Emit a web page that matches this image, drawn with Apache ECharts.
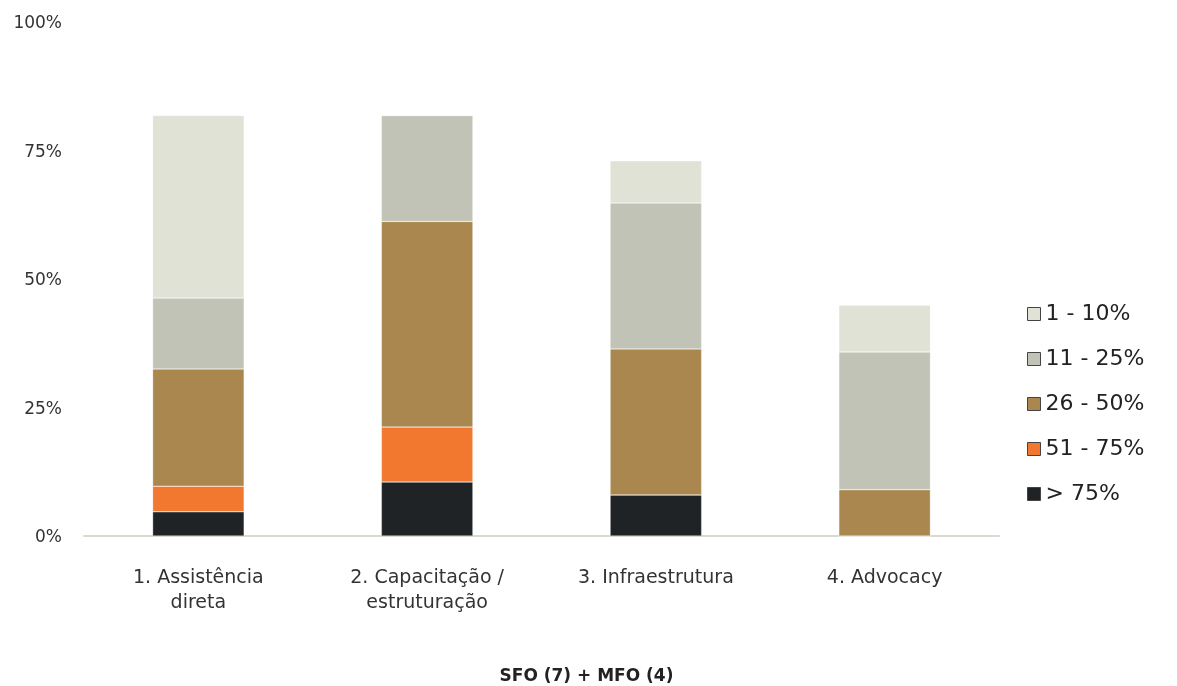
<!DOCTYPE html>
<html><head><meta charset="utf-8">
<script src="https://cdn.jsdelivr.net/npm/echarts@6/dist/echarts.min.js"></script>
<style>html,body{margin:0;padding:0;background:#fff}#c{width:1177px;height:686px}</style>
</head><body><div id="c"></div>
<script>
const categories = ['1. Assistência\ndireta', '2. Capacitação /\nestruturação', '3. Infraestrutura', '4. Advocacy'];
const yTicks = ['0%', '25%', '50%', '75%', '100%'];
const seriesNames = ['> 75%', '51 - 75%', '26 - 50%', '11 - 25%', '1 - 10%'];
const over75 = [4.7, 10.5, 8.0, 0];
const s51to75 = [5.0, 10.7, 0, 0];
const s26to50 = [22.8, 40.0, 28.4, 9.0];
const s11to25 = [13.8, 20.6, 28.4, 26.8];
const s1to10 = [35.5, 0, 8.2, 9.1];
const colors = ['#202326', '#f2782f', '#a9874e', '#c1c3b6', '#e0e2d6'];
const xTitle = 'SFO (7) + MFO (4)';

const dataSets = [over75, s51to75, s26to50, s11to25, s1to10];
const font = '"DejaVu Sans", sans-serif';
const chart = echarts.init(document.getElementById('c'));
chart.setOption({
  animation: false,
  grid: { left: 84, right: 178, top: 22, bottom: 150, outerBoundsMode: 'none', containLabel: false },
  legend: {
    orient: 'vertical', left: 1022, top: 298, itemWidth: 13, itemHeight: 13, itemGap: 23,
    icon: 'rect',
    data: seriesNames.slice().reverse(),
    textStyle: { fontFamily: font, fontSize: 22, color: '#222', padding: [0,0,0,0] },
    itemStyle: { borderColor: '#444', borderWidth: 1 }
  },
  xAxis: {
    type: 'category', data: categories,
    axisLine: { lineStyle: { color: '#d9dacd', width: 2 } },
    axisTick: { show: false },
    axisLabel: { fontFamily: font, fontSize: 19, color: '#333', margin: 30, lineHeight: 25 },
    name: xTitle, nameLocation: 'middle', nameGap: 132,
    nameTextStyle: { fontFamily: font, fontSize: 17, fontWeight: 'bold', color: '#222', padding: [0,0,0,90] }
  },
  yAxis: {
    type: 'value', min: 0, max: 100, interval: 25,
    axisLabel: { fontFamily: font, fontSize: 17, color: '#333', margin: 22,
      formatter: v => '{a|' + yTicks[Math.round(v / 25)] + '}',
      rich: { a: { fontFamily: font, fontSize: 17, color: '#333', padding: [4, 0, 0, 0] } } },
    splitLine: { show: false }, axisLine: { show: false }, axisTick: { show: false }
  },
  series: seriesNames.map((n, i) => ({
    name: n, type: 'bar', stack: 'total', barWidth: '40%',
    data: dataSets[i],
    itemStyle: { color: colors[i], borderColor: 'rgba(255,255,255,0.6)', borderWidth: 0.5 }
  }))
});
</script></body></html>
